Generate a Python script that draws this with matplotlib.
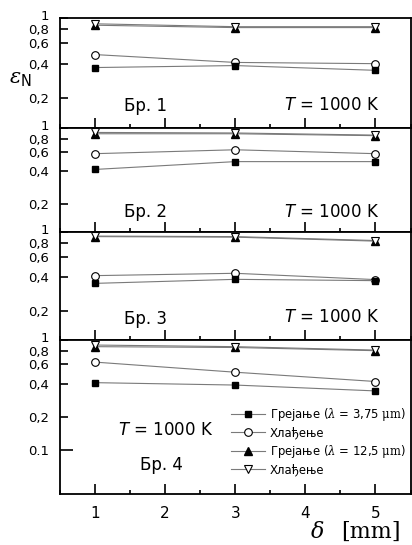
import matplotlib
matplotlib.use('Agg')
import matplotlib.pyplot as plt
import matplotlib.ticker as ticker
import matplotlib.transforms as mtransforms

# Emissivity vs. sample thickness, four samples, T = 1000 K
delta_mm = [1, 3, 5]
sample_names = ['Бр. 1', 'Бр. 2', 'Бр. 3', 'Бр. 4']
heat_375 = [[0.37, 0.385, 0.35], [0.415, 0.49, 0.49], [0.35, 0.38, 0.37], [0.41, 0.39, 0.345]]
cool_375 = [[0.48, 0.41, 0.40], [0.58, 0.63, 0.58], [0.41, 0.43, 0.378], [0.63, 0.51, 0.42]]
heat_125 = [[0.865, 0.825, 0.825], [0.885, 0.885, 0.85], [0.91, 0.90, 0.83], [0.87, 0.855, 0.80]]
cool_125 = [[0.89, 0.84, 0.84], [0.91, 0.90, 0.86], [0.92, 0.91, 0.84], [0.90, 0.87, 0.81]]
series_labels = ['Грејање ($\\lambda$ = 3,75 $\\mathrm{\\mu m}$)', 'Хлађење',
                 'Грејање ($\\lambda$ = 12,5 $\\mathrm{\\mu m}$)', 'Хлађење']
ytick_vals = [0.2, 0.4, 0.6, 0.8, 1.0]
ytick_labels = ['0,2', '0,4', '0,6', '0,8', '1']
temp_label = '$\\mathsf{T}$ = 1000 K'

plt.rcParams['mathtext.fontset'] = 'custom'
plt.rcParams['mathtext.rm'] = 'DejaVu Serif'
plt.rcParams['mathtext.it'] = 'DejaVu Serif:italic'
plt.rcParams['mathtext.sf'] = 'DejaVu Sans:italic'

W, H = 412, 545


def fx(x):
    return x / W


def fy(y):
    return 1 - y / H


#------------------------------------------------------------------------------
fig = plt.figure(figsize=(W / 100, H / 100), dpi=100)

panel_edges = [(18, 128), (128, 232), (232, 340), (340, 494)]
ylims = [(0.11, 1.0), (0.11, 1.0), (0.11, 1.0), (0.04, 1.0)]
line_col = '#7a7a7a'
axes = []
for i, (top, bot) in enumerate(panel_edges):
    ax = fig.add_axes([fx(60), fy(bot), fx(410.5) - fx(60), (bot - top) / H])
    ax.set_yscale('log')
    ax.set_xlim(0.5, 5.5)
    ax.set_ylim(*ylims[i])

    # Draw order: circles under squares, open down triangles on top
    ax.plot(delta_mm, cool_375[i], '-', color=line_col, lw=0.8, marker='o', ms=5.5,
            mfc='white', mec='black', mew=0.8, zorder=3, label=series_labels[1])
    ax.plot(delta_mm, heat_375[i], '-', color=line_col, lw=0.8, marker='s', ms=5,
            mfc='black', mec='black', zorder=4, label=series_labels[0])
    ax.plot(delta_mm, heat_125[i], '-', color=line_col, lw=0.8, marker='^', ms=6,
            mfc='black', mec='black', zorder=5, label=series_labels[2])
    ax.plot(delta_mm, cool_125[i], '-', color=line_col, lw=0.8, marker='v', ms=6,
            mfc='white', mec='black', mew=0.8, zorder=6, label=series_labels[3])

    ax.yaxis.set_major_locator(ticker.FixedLocator(ytick_vals))
    ax.yaxis.set_major_formatter(ticker.FixedFormatter(ytick_labels))
    if i == 3:
        ax.yaxis.set_minor_locator(ticker.FixedLocator([0.1]))
        ax.yaxis.set_minor_formatter(ticker.FixedFormatter(['0.1']))
    else:
        ax.yaxis.set_minor_locator(ticker.NullLocator())
    ax.xaxis.set_major_locator(ticker.MultipleLocator(1))
    ax.xaxis.set_minor_locator(ticker.MultipleLocator(0.5))

    ax.tick_params(axis='y', which='major', direction='in', length=5.5, width=1.2,
                   labelsize=9.5, pad=8, right=False)
    ax.tick_params(axis='y', which='minor', direction='in', length=9.5, width=1.2,
                   labelsize=9.5, pad=8, right=False)
    ax.tick_params(axis='x', which='major', direction='in', length=7.5, width=1.2,
                   labelsize=11, pad=9, top=False, labelbottom=(i == 3))
    ax.tick_params(axis='x', which='minor', direction='in', length=3, width=1.2,
                   top=False)
    for sp in ax.spines.values():
        sp.set_linewidth(1.3)

    # the "1" label sits a little higher, above "0,8"
    top_tick = ax.yaxis.get_major_ticks()[-1]
    top_tick.label1.set_transform(top_tick.label1.get_transform() +
                                  mtransforms.ScaledTranslation(0, 2.5 / 72, fig.dpi_scale_trans))
    axes.append(ax)

# Panel annotations
for name, (cx, cy) in zip(sample_names, [(146, 106), (146, 212), (146, 319), (161, 465)]):
    fig.text(fx(cx), fy(cy), name, fontsize=12, ha='center', va='center')
for (rx, cy) in [(379, 105), (379, 212), (379, 317)]:
    fig.text(fx(rx), fy(cy), temp_label, fontsize=12, ha='right', va='center')
fig.text(fx(166), fy(430), temp_label, fontsize=12, ha='center', va='center')

# y label: epsilon with subscript N
fig.text(fx(20), fy(79), '$\\varepsilon_\\mathregular{N}$', fontsize=15,
         ha='center', va='center')

# x label
fig.text(fx(310), fy(532), '$\\delta$', fontsize=16, ha='left', va='center')
fig.text(fx(371), fy(532), '[mm]', fontsize=16, ha='center', va='center',
         family='DejaVu Serif')

# Legend in bottom panel, in the order heating/cooling per wavelength
h, l = axes[3].get_legend_handles_labels()
order = [1, 0, 2, 3]
fig.legend([h[k] for k in order], [l[k] for k in order], loc='upper left',
           bbox_to_anchor=(fx(231), fy(406)), frameon=False, fontsize=8.4,
           handlelength=2.9, handletextpad=0.45, labelspacing=0.3,
           borderpad=0, borderaxespad=0)

fig.savefig('out.png', dpi=100)
